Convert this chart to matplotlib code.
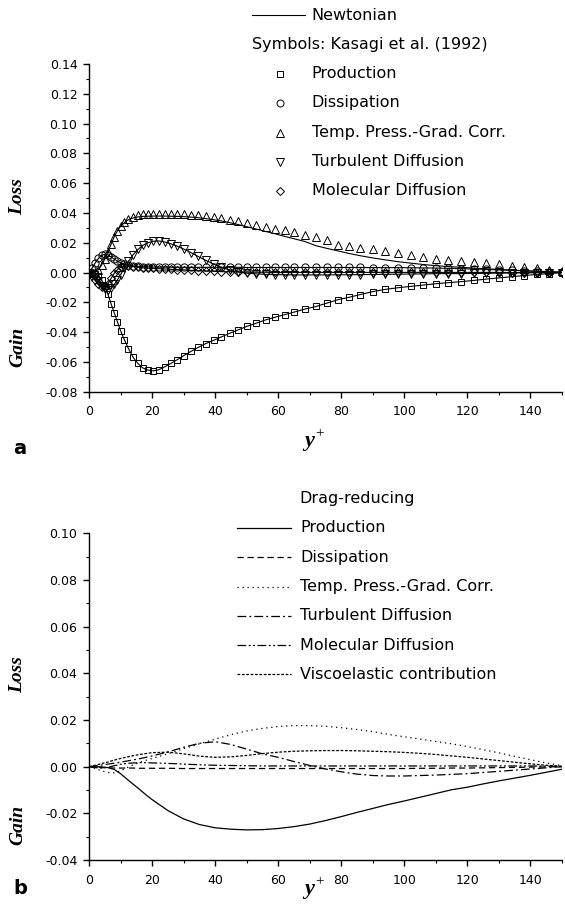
import numpy as np
import matplotlib.pyplot as plt
from matplotlib.lines import Line2D
from matplotlib.ticker import MultipleLocator

# ---- panel a : Newtonian (lines) and Kasagi et al. 1992 (symbols) ----
yp_a = [0, 1, 2, 3, 4, 5, 6, 7, 8, 9, 10, 11.2, 12.5, 14, 15.5, 17, 18.7, 20.4, 22.2, 24.1,
        26, 28, 30.1, 32.3, 34.6, 37, 39.5, 42, 44.6, 47.3, 50, 53, 56, 59, 62, 65, 68.5, 72,
        75.5, 79, 82.5, 86, 90, 94, 98, 102, 106, 110, 114, 118, 122, 126, 130, 134, 138, 142,
        146, 150]

production_a = [0, -0.0003, -0.001, -0.0025, -0.005, -0.009, -0.0145, -0.021, -0.027, -0.033,
                -0.039, -0.045, -0.051, -0.057, -0.061, -0.064, -0.0655, -0.066, -0.0652, -0.0632,
                -0.061, -0.0585, -0.0557, -0.053, -0.0503, -0.0477, -0.0455, -0.0432, -0.0408,
                -0.0385, -0.0362, -0.034, -0.0318, -0.03, -0.0283, -0.0266, -0.0245, -0.0228,
                -0.0205, -0.0182, -0.0166, -0.0148, -0.0128, -0.0113, -0.0102, -0.0093, -0.0084,
                -0.0075, -0.0068, -0.0061, -0.0053, -0.0044, -0.0036, -0.0028, -0.002, -0.0013,
                -0.0007, 0]

dissipation_a = [0, 0.003, 0.0065, 0.0095, 0.0115, 0.0122, 0.0118, 0.0105, 0.009, 0.0077,
                 0.0066, 0.0057, 0.005, 0.0045, 0.0042, 0.004, 0.0038, 0.0037, 0.0036, 0.0036,
                 0.0036, 0.0036, 0.0035, 0.0035, 0.0035, 0.0035, 0.0035, 0.0035, 0.0035, 0.0035,
                 0.0034, 0.0034, 0.0034, 0.0034, 0.0034, 0.0034, 0.0034, 0.0034, 0.0034, 0.0034,
                 0.0034, 0.0034, 0.0033, 0.0033, 0.0033, 0.0032, 0.0031, 0.003, 0.0028, 0.0026,
                 0.0024, 0.0021, 0.0018, 0.0015, 0.0012, 0.0009, 0.0006, 0.0003]

pressgrad_sym = [0, 0, 0.0005, 0.002, 0.005, 0.009, 0.014, 0.019, 0.024, 0.028, 0.031, 0.034,
                 0.036, 0.0375, 0.0385, 0.039, 0.0392, 0.0393, 0.0393, 0.0393, 0.0392, 0.0391,
                 0.039, 0.0388, 0.0385, 0.038, 0.0373, 0.0365, 0.0355, 0.0344, 0.0333, 0.032,
                 0.0307, 0.0295, 0.0283, 0.027, 0.0255, 0.0238, 0.022, 0.0185, 0.0175, 0.0165,
                 0.0155, 0.0145, 0.0133, 0.012, 0.0105, 0.0092, 0.0085, 0.008, 0.007, 0.0063,
                 0.0055, 0.0046, 0.0037, 0.0028, 0.0018, 0.0008]

pressgrad_line = [0, 0, 0.0005, 0.002, 0.005, 0.009, 0.014, 0.019, 0.024, 0.028, 0.031, 0.0335,
                  0.0355, 0.0367, 0.0373, 0.0377, 0.0378, 0.0379, 0.0379, 0.0379, 0.0378, 0.0377,
                  0.0375, 0.0372, 0.0368, 0.0362, 0.0355, 0.0346, 0.0335, 0.0322, 0.0308, 0.0292,
                  0.0276, 0.026, 0.0243, 0.0227, 0.0208, 0.018, 0.0162, 0.0145, 0.0128, 0.0113,
                  0.0098, 0.0085, 0.0073, 0.0063, 0.0054, 0.0046, 0.004, 0.0035, 0.003, 0.0025,
                  0.0021, 0.0016, 0.0012, 0.0008, 0.0004, 0.0001]

turbdiff_a = [0, -0.001, -0.003, -0.006, -0.009, -0.011, -0.0115, -0.0105, -0.008, -0.005,
              -0.0015, 0.003, 0.0075, 0.012, 0.0155, 0.0182, 0.02, 0.021, 0.0212, 0.0205, 0.0193,
              0.0177, 0.0157, 0.0134, 0.0108, 0.0082, 0.0057, 0.0035, 0.0017, 0.0004, -0.0004,
              -0.0009, -0.0012, -0.0014, -0.0015, -0.0016, -0.0016, -0.0016, -0.0016, -0.0015,
              -0.0015, -0.0014, -0.0013, -0.0012, -0.0011, -0.001, -0.0009, -0.0008, -0.0007,
              -0.0007, -0.0006, -0.0005, -0.0004, -0.0003, -0.0002, -0.0001, 0, 0]

moldiff_a = [0, -0.002, -0.005, -0.008, -0.0095, -0.0095, -0.0075, -0.004, -0.0005, 0.002,
             0.0035, 0.0042, 0.0043, 0.004, 0.0036, 0.0032, 0.003, 0.0028, 0.0026, 0.0024,
             0.0022, 0.002, 0.0018, 0.0015, 0.0012, 0.001, 0.0008, 0.0006, 0.0005, 0.0004,
             0.0003, 0.0002, 0.0002, 0.0001, 0.0001, 0.0001, 0.0001, 0.0001, 0.0001, 0.0001,
             0.0001, 0.0001, 0.0001, 0.0001, 0.0001, 0.0001, 0.0001, 0.0001, 0.0001, 0.0001,
             0.0001, 0.0001, 0.0001, 0, 0, 0, 0, 0]

# ---- panel b : drag-reducing ----
yp_b = [0, 2, 4, 6, 8, 10, 12, 14, 16, 18, 20, 25, 30, 35, 40, 45, 50, 55, 60, 65, 70, 75, 80,
        85, 90, 95, 100, 105, 110, 115, 120, 125, 130, 135, 140, 145, 150]

production_b = [0, 0, -0.0001, -0.0004, -0.0012, -0.003, -0.0053, -0.0075, -0.0097, -0.012,
                -0.0141, -0.0188, -0.0224, -0.0248, -0.0262, -0.0268, -0.0271, -0.027, -0.0265,
                -0.0257, -0.0246, -0.0231, -0.0214, -0.0196, -0.0179, -0.0162, -0.0147, -0.0131,
                -0.0115, -0.0099, -0.0088, -0.0074, -0.0061, -0.0049, -0.0037, -0.0024, -0.0011]

dissipation_b = [0, -0.0002, -0.0004, -0.0005, -0.0006, -0.0006, -0.0006, -0.0006, -0.0007,
                 -0.0007, -0.0007, -0.0007, -0.0008, -0.0008, -0.0008, -0.0008, -0.0008, -0.0008,
                 -0.0008, -0.0008, -0.0008, -0.0008, -0.0008, -0.0008, -0.0008, -0.0008, -0.0008,
                 -0.0007, -0.0007, -0.0006, -0.0006, -0.0005, -0.0004, -0.0003, -0.0002, -0.0001, 0]

pressgrad_b = [0, -0.0008, -0.0018, -0.0025, -0.0026, -0.0018, -0.0005, 0.0008, 0.0018, 0.0027,
               0.0035, 0.0055, 0.0077, 0.0098, 0.0118, 0.0137, 0.0153, 0.0164, 0.0172, 0.0176,
               0.0176, 0.0173, 0.0167, 0.0159, 0.015, 0.0138, 0.0128, 0.0118, 0.0108, 0.0098,
               0.0086, 0.0073, 0.0059, 0.0044, 0.003, 0.0016, 0.0004]

turbdiff_b = [0, 0.0003, 0.0007, 0.0011, 0.0015, 0.0019, 0.0024, 0.0029, 0.0034, 0.004, 0.0046,
              0.0063, 0.0083, 0.01, 0.0107, 0.0095, 0.0075, 0.0055, 0.004, 0.0022, 0.0005,
              -0.001, -0.0022, -0.0032, -0.0038, -0.004, -0.004, -0.0038, -0.0036, -0.0033,
              -0.003, -0.0025, -0.002, -0.0015, -0.001, -0.0005, 0]

moldiff_b = [0, -0.0004, -0.0006, -0.0003, 0.0004, 0.001, 0.0014, 0.0016, 0.0017, 0.0017,
             0.0016, 0.0014, 0.0011, 0.0008, 0.0006, 0.0005, 0.0004, 0.0003, 0.0003, 0.0003,
             0.0003, 0.0003, 0.0003, 0.0003, 0.0003, 0.0003, 0.0003, 0.0003, 0.0003, 0.0003,
             0.0003, 0.0003, 0.0003, 0.0003, 0.0003, 0.0002, 0.0001]

viscoelastic_b = [0, 0.0006, 0.0013, 0.002, 0.0028, 0.0035, 0.0041, 0.0047, 0.0052, 0.0056,
                  0.006, 0.0062, 0.0055, 0.0045, 0.004, 0.0042, 0.0048, 0.0056, 0.0062, 0.0066,
                  0.0068, 0.0069, 0.0069, 0.0068, 0.0066, 0.0064, 0.0061, 0.0057, 0.0052, 0.0046,
                  0.004, 0.0033, 0.0026, 0.0019, 0.0012, 0.0006, 0.0002]

legend_a = ["Production", "Dissipation", "Temp. Press.-Grad. Corr.",
            "Turbulent Diffusion", "Molecular Diffusion"]
legend_b = legend_a + ["Viscoelastic contribution"]

W, H = 565, 921
serif = ['Liberation Serif', 'DejaVu Serif']
plt.rcParams['font.family'] = ['DejaVu Sans']


def fx(px):
    return px / W


def fy(py):
    return 1 - py / H


fig = plt.figure(figsize=(W / 100, H / 100), dpi=100)
ax1 = fig.add_axes([fx(89), fy(391.7), (562 - 89) / W, (391.7 - 64) / H])
ax2 = fig.add_axes([fx(89), fy(860), (562 - 89) / W, (860 - 533.3) / H])


def style_axes(ax, ymin, ymax):
    ax.set_xlim(0, 150)
    ax.set_ylim(ymin, ymax)
    ax.xaxis.set_major_locator(MultipleLocator(20))
    ax.xaxis.set_minor_locator(MultipleLocator(10))
    ax.yaxis.set_major_locator(MultipleLocator(0.02))
    ax.yaxis.set_minor_locator(MultipleLocator(0.01))
    ax.yaxis.set_major_formatter(plt.FormatStrFormatter('%.2f'))
    for s in ['top', 'right']:
        ax.spines[s].set_visible(False)
    for s in ['left', 'bottom']:
        ax.spines[s].set_linewidth(1.0)
    ax.tick_params(which='major', direction='out', length=4.3, width=1, labelsize=9)
    ax.tick_params(axis='y', which='major', pad=4)
    ax.tick_params(axis='x', which='major', pad=5.5)
    ax.tick_params(which='minor', direction='out', length=2.2, width=0.8)


style_axes(ax1, -0.08, 0.14)
style_axes(ax2, -0.04, 0.10)

# panel a
lk = dict(color='black', lw=0.8)
mk = dict(ls='none', color='black', mfc='none', mew=0.7)
for vals in [production_a, dissipation_a, pressgrad_line, turbdiff_a, moldiff_a]:
    ax1.plot(yp_a, vals, **lk)
ax1.plot(yp_a, production_a, marker='s', ms=4.7, **mk)
ax1.plot(yp_a, dissipation_a, marker='o', ms=5.2, **mk)
ax1.plot(yp_a, pressgrad_sym, marker='^', ms=6.3, **mk)
ax1.plot(yp_a, turbdiff_a, marker='v', ms=6.3, **mk)
ax1.plot(yp_a, moldiff_a, marker='D', ms=4.2, **mk)

# panel b
styles_b = ['-', (0, (5, 3)), (0, (1, 3)), (0, (7, 2.5, 1.5, 2.5)),
            (0, (7, 2, 1.5, 2, 1.5, 2)), (0, (2.2, 1.3))]
series_b = [production_b, dissipation_b, pressgrad_b, turbdiff_b, moldiff_b, viscoelastic_b]
for vals, ls in zip(series_b, styles_b):
    ax2.plot(yp_b, vals, color='black', lw=0.9, ls=ls)

# legend panel a (drawn by hand)
fs_leg = 11.5
fig.add_artist(Line2D([fx(252), fx(305)], [fy(15), fy(15)], color='black', lw=0.8))
fig.text(fx(311.7), fy(15), "Newtonian", fontsize=fs_leg, va='center')
fig.text(fx(252), fy(45), "Symbols: Kasagi et al. (1992)", fontsize=fs_leg, va='center')
rows_a = [74, 102.7, 132.7, 161.7, 190.7]
markers_a = [('s', 4.5), ('o', 5), ('^', 5.5), ('v', 5.5), ('D', 4)]
for (m, ms), row, lab in zip(markers_a, rows_a, legend_a):
    fig.add_artist(Line2D([fx(279.7)], [fy(row)], marker=m, ms=ms, color='black',
                          mfc='none', mew=0.7, ls='none'))
    fig.text(fx(311.7), fy(row), lab, fontsize=fs_leg, va='center')

# legend panel b
fig.text(fx(299), fy(498.3), "Drag-reducing", fontsize=fs_leg, va='center')
rows_b = [527.7, 557.3, 586.7, 616, 645, 674]
for ls, row, lab in zip(styles_b, rows_b, legend_b):
    fig.add_artist(Line2D([fx(237), fx(291)], [fy(row), fy(row)], color='black', lw=0.9, ls=ls))
    fig.text(fx(300), fy(row), lab, fontsize=fs_leg, va='center')

# axis labels
lab_kw = dict(family=serif, fontweight='bold', style='italic', fontsize=14,
              rotation=90, ha='center', va='center')
for yl, yg in [(197, 347), (675, 825)]:
    fig.text(fx(18), fy(yl), "Loss", **lab_kw)
    fig.text(fx(18), fy(yg), "Gain", **lab_kw)
for yy in [441, 889]:
    fig.text(fx(309), fy(yy), "y", family=serif, fontweight='bold', style='italic',
             fontsize=16, ha='center', va='center')
    fig.text(fx(315), fy(yy - 7), "+", family=serif, fontsize=11, ha='left', va='center')
fig.text(fx(20), fy(448), "a", fontsize=14, fontweight='bold', ha='center', va='center')
fig.text(fx(20), fy(888), "b", fontsize=14, fontweight='bold', ha='center', va='center')

fig.savefig("out.png", dpi=100)
